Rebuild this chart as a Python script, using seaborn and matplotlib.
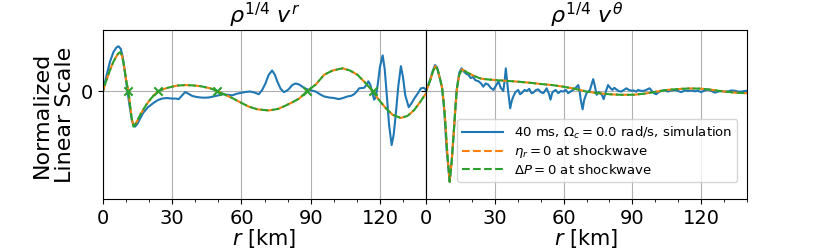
import numpy as np
import pandas as pd
import matplotlib
matplotlib.use('Agg')
import matplotlib.pyplot as plt
from matplotlib.lines import Line2D
import seaborn as sns

# ---- radial velocity panel ----
r_sim_vr = [0, 1.5, 3, 4.5, 5.7, 6.7, 7.7, 8.6, 9.5, 10.6, 11.6, 12.6, 13.9, 15, 16.2, 17.5,
            19.5, 21.9, 23.7, 25.5, 27.7, 29.9, 31.5, 32.8, 34.3, 35.6, 37, 38.6, 40.5, 42.2,
            44, 45.8, 48, 50.1, 52, 54, 56, 58, 60.3, 62, 63.9, 65.8, 67.5, 69, 70.4, 71.8,
            73.3, 74.5, 75.5, 77, 78.4, 79.5, 80.6, 82, 83.5, 85, 86.4, 88, 89.3, 92.2, 94,
            95.8, 98, 100, 102.3, 104, 106, 107.5, 108.8, 110, 111, 113.2, 114.3, 115, 115.8,
            116.8, 117.5, 118.2, 119, 120, 121.2, 122.1, 123, 124, 125.1, 126, 127, 128,
            129.1, 130, 131, 132.5, 133.5, 134.9, 136.5, 137.8, 139, 140]
sim_vr = [0, 0.14, 0.27, 0.36, 0.40, 0.415, 0.39, 0.31, 0.17, 0.0, -0.15, -0.28, -0.33, -0.30,
          -0.25, -0.20, -0.15, -0.11, -0.085, -0.07, -0.065, -0.07, -0.07, -0.075, -0.04, -0.01,
          -0.025, -0.045, -0.055, -0.06, -0.062, -0.06, -0.05, -0.04, -0.03, -0.035, -0.04,
          -0.025, -0.015, -0.008, -0.005, -0.015, -0.03, 0.01, 0.07, 0.15, 0.19, 0.15, 0.09,
          0.02, -0.01, 0.0, 0.02, 0.055, 0.07, 0.06, 0.04, 0.02, 0.01, -0.005, -0.03, -0.05,
          -0.06, -0.065, -0.075, -0.065, -0.05, -0.045, -0.03, -0.005, 0.025, 0.03, 0.06,
          0.09, 0.06, -0.02, -0.08, -0.06, 0.05, 0.22, 0.33, 0.2, -0.04, -0.32, -0.50, -0.40,
          -0.19, 0.05, 0.23, 0.13, -0.04, -0.15, -0.12, -0.07, -0.02, 0.025, 0.03, 0.01]

r_model_vr = [0, 1, 2.3, 3.5, 4.5, 5.5, 6.5, 7.4, 8.2, 8.8, 9.5, 10.2, 11.0, 11.7, 12.4, 13.2,
              14, 15, 16.1, 17.5, 19, 20.4, 22, 24, 26.5, 29, 32, 35.7, 39, 42.2, 46.5, 49.4,
              52, 56, 60, 63.2, 67, 71.9, 76, 79.1, 82, 85, 88.6, 92.2, 95.8, 99.5, 103.8, 107,
              110.3, 113.5, 116.8, 119.5, 122.6, 125.5, 129.1, 132, 134.9, 137.5, 140]
eta_vr = [0, 0.07, 0.15, 0.22, 0.27, 0.31, 0.345, 0.36, 0.33, 0.27, 0.18, 0.08, 0.0, -0.12,
          -0.25, -0.33, -0.31, -0.27, -0.22, -0.17, -0.12, -0.08, -0.04, 0.0, 0.02, 0.035, 0.05,
          0.055, 0.052, 0.045, 0.025, 0.0, -0.025, -0.065, -0.11, -0.145, -0.17, -0.18, -0.165,
          -0.135, -0.105, -0.07, 0.0, 0.06, 0.15, 0.19, 0.21, 0.19, 0.15, 0.08, 0.0, -0.08,
          -0.16, -0.22, -0.25, -0.23, -0.175, -0.1, -0.02]
dp_vr = list(eta_vr)  # both boundary conditions coincide in the figure

# zero crossings (nodes) marked on the pressure curve
r_nodes = [10.8, 23.7, 49.6, 88.6, 116.8]
y_nodes = [0, 0, 0, 0, 0]

# ---- angular velocity panel ----
r_sim_vt = [0, 1, 2, 3, 3.9, 4.8, 5.8, 7, 8, 9, 10.3, 11.3, 12.2, 13.3, 14.5, 15.5, 16.5, 17.5,
            18.5, 19.5, 20.5, 21.5, 22.9, 24, 25, 26, 27.1, 28.2, 29.4, 30.5, 31.6, 32.6, 33.7,
            34.3, 34.8, 35.3, 35.7, 36.7, 37.4, 38.1, 39, 40.2, 41, 41.7, 43, 43.9, 45, 46,
            46.8, 48, 49, 50, 51.2, 52.6, 53.5, 54.3, 55, 55.5, 56.5, 57.7, 58.8, 59.9, 61, 62,
            63, 64.2, 65.3, 66.4, 67, 67.4, 68.3, 69, 70, 71.5, 72.2, 72.9, 73.6, 74.4, 75.3,
            76.1, 76.8, 77.5, 78.5, 79.4, 80.3, 81.3, 82.1, 83, 84, 85.2, 86.3, 87.4, 88.5,
            89.5, 90.5, 91.7, 92.5, 94, 95.4, 96.5, 97.5, 98.5, 99.4, 100.4, 101.5, 102.6, 104,
            105.5, 107, 108.4, 110, 111.3, 113, 114.3, 115.7, 117.2, 118.5, 120, 121.5, 123,
            124.5, 126, 127.4, 128.8, 130.2, 131.7, 133, 134.6, 136, 137.5, 139, 140]
sim_vt = [0.02, 0.06, 0.12, 0.19, 0.24, 0.22, 0.14, 0.03, -0.2, -0.55, -0.84, -0.62, -0.35, 0.0,
          0.17, 0.21, 0.18, 0.16, 0.15, 0.12, 0.13, 0.1, 0.09, 0.07, 0.04, 0.07, 0.06, 0.03,
          0.01, 0.05, 0.09, 0.03, 0.0, 0.1, 0.21, 0.1, 0.02, -0.16, -0.09, -0.05, -0.01, 0.01,
          -0.03, -0.02, 0.01, 0.0, 0.02, -0.02, -0.015, 0.01, 0.015, -0.01, -0.02, 0.025,
          -0.02, -0.08, -0.02, -0.005, 0.01, -0.02, 0.0, -0.005, 0.01, -0.02, -0.005, 0.01,
          0.03, 0.055, 0.0, -0.07, -0.17, -0.08, -0.02, 0.01, 0.06, 0.11, 0.05, -0.035, -0.01,
          -0.02, -0.04, -0.075, 0.0, 0.055, 0.03, 0.01, 0.03, 0.015, 0.0, -0.005, 0.01, 0.025,
          0.01, 0.003, 0.005, -0.006, 0.01, 0.0, 0.004, 0.015, 0.025, 0.0, -0.02, -0.03, -0.01,
          0.0, 0.008, -0.005, 0.005, 0.01, 0.0, -0.01, 0.005, 0.0, 0.005, -0.003, 0.003,
          -0.01, 0.005, 0.015, 0.0, -0.015, -0.005, 0.0, -0.005, -0.005, 0.005, 0.003,
          -0.005, -0.006, 0.0, 0.002]

r_model_vt = [0, 1, 2, 3, 4.1, 5, 6, 7, 7.7, 8.4, 9.2, 10.3, 11.2, 12, 12.8, 13.5, 14.5, 15.7,
              17, 18.5, 20, 22, 24, 25.8, 28, 31, 34.5, 38, 42, 46, 50, 55, 59.9, 65, 70, 75,
              80.1, 85, 90.3, 95, 98.3, 102, 106, 111.3, 115, 120, 125, 130.1, 135, 139.6, 140]
eta_vt = [0.0, 0.05, 0.11, 0.18, 0.23, 0.2, 0.12, 0.03, -0.1, -0.28, -0.55, -0.84, -0.65, -0.41,
          -0.16, 0.03, 0.15, 0.2, 0.185, 0.165, 0.15, 0.13, 0.115, 0.11, 0.105, 0.1, 0.095,
          0.09, 0.083, 0.075, 0.065, 0.055, 0.04, 0.02, -0.005, -0.02, -0.03, -0.035, -0.035,
          -0.025, -0.015, 0.0, 0.012, 0.02, 0.024, 0.022, 0.01, -0.005, -0.015, -0.02, -0.02]
dp_vt = list(eta_vt)

x_ticks = [0, 30, 60, 90, 120]
labels = [r'40 ms, $\Omega_c = 0.0$ rad/s, simulation',
          r'$\eta_r = 0$ at shockwave',
          r'$\Delta P = 0$ at shockwave']

plt.rcParams['font.family'] = ['DejaVu Sans']
plt.rcParams['mathtext.fontset'] = 'dejavusans'

fig = plt.figure(figsize=(8.3, 2.49), dpi=100)
ax1 = fig.add_axes([0.1241, 0.2008, 0.3892, 0.6787])
ax2 = fig.add_axes([0.5133, 0.2008, 0.3867, 0.6787], sharey=ax1)

panels = [
    (ax1, r_sim_vr, sim_vr, r_model_vr, eta_vr, dp_vr, r'$\rho^{1/4}\ v^r$'),
    (ax2, r_sim_vt, sim_vt, r_model_vt, eta_vt, dp_vt, r'$\rho^{1/4}\ v^\theta$'),
]

for ax, rs, ys, rm, ye, yd, title in panels:
    sns.lineplot(x=rs, y=ys, ax=ax, color='C0', lw=1.5, errorbar=None, legend=False)
    sns.lineplot(x=rm, y=ye, ax=ax, color='C1', lw=1.5, errorbar=None, linestyle='--',
                 legend=False)
    # offset dashes so the orange curve peeks through underneath
    sns.lineplot(x=rm, y=yd, ax=ax, color='C2', lw=1.5, errorbar=None,
                 linestyle=(2.6, (3.7, 1.6)), legend=False)
    ax.set_xlim(0, 140)
    ax.set_xticks(x_ticks)
    ax.set_xticks(np.arange(0, 141, 10), minor=True)
    ax.set_yticks([0])
    ax.grid(True, which='major', color='#b0b0b0', lw=0.8)
    ax.set_axisbelow(True)
    ax.tick_params(labelsize=14)
    ax.set_xlabel(r'$r$ [km]', fontsize=15, labelpad=-0.5)
    ax.set_title(title, fontsize=16, pad=5)

sns.scatterplot(x=r_nodes, y=y_nodes, ax=ax1, marker='x', color='C2', s=36,
                linewidth=1.5, zorder=5, legend=False)

ax1.set_ylim(-1.0, 0.565)
ax1.set_ylabel('Normalized\nLinear Scale', fontsize=16, labelpad=4)
ax2.tick_params(labelleft=False)
ax2.set_ylabel('')

handles = [Line2D([], [], color='C0', lw=1.5),
           Line2D([], [], color='C1', lw=1.5, ls='--'),
           Line2D([], [], color='C2', lw=1.5, ls='--')]
ax2.legend(handles, labels, loc='lower right', bbox_to_anchor=(0.97, 0.1),
           borderaxespad=0, fontsize=9.5, handlelength=3.1, labelspacing=0.2)

fig.savefig('out.png', dpi=100)
